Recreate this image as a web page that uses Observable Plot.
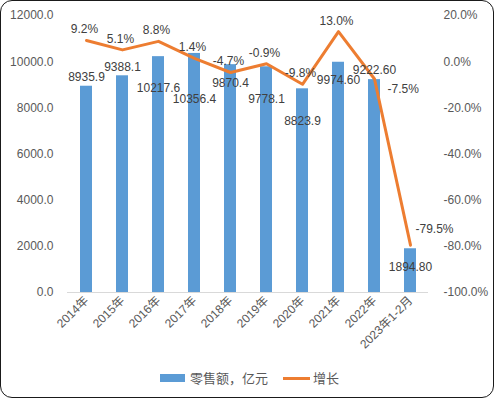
<!DOCTYPE html>
<html><head><meta charset="utf-8">
<script src="https://cdn.jsdelivr.net/npm/d3@7"></script>
<script src="https://cdn.jsdelivr.net/npm/@observablehq/plot@0.6"></script>
<style>
html,body{margin:0;padding:0;background:#fff;}
#wrap{position:relative;width:494px;height:398px;overflow:hidden;font-family:"Liberation Sans","Noto Sans CJK SC",sans-serif;}
#frame{position:absolute;left:0;top:0;width:494px;height:398px;box-sizing:border-box;border:1.5px solid #1a1a1a;border-radius:12px;pointer-events:none;}
#chart{position:absolute;left:0;top:0;}
#legend{position:absolute;left:0;top:367px;width:494px;height:20px;font-size:13px;color:#595959;font-family:"Noto Sans CJK SC","Liberation Sans",sans-serif;}
.sw{position:absolute;}
</style></head>
<body>
<div id="wrap"><div id="chart"></div>
<div id="legend">
<span class="sw" style="left:160px;top:7px;width:25px;height:8px;background:#5B9BD5"></span>
<span class="sw" style="left:190px;top:1px">零售额，亿元</span>
<span class="sw" style="left:283px;top:10px;width:27px;height:3px;background:#ED7D31"></span>
<span class="sw" style="left:313px;top:1px">增长</span>
</div>
<div id="frame"></div></div>
<script>
const years = ["2014年","2015年","2016年","2017年","2018年","2019年","2020年","2021年","2022年","2023年1-2月"];
const sales = [8935.9, 9388.1, 10217.6, 10356.4, 9870.4, 9778.1, 8823.9, 9974.60, 9222.60, 1894.80];
const salesLabels = ["8935.9","9388.1","10217.6","10356.4","9870.4","9778.1","8823.9","9974.60","9222.60","1894.80"];
const growth = [9.2, 5.1, 8.8, 1.4, -4.7, -0.9, -9.8, 13.0, -7.5, -79.5];
const leftTicks = [0, 2000, 4000, 6000, 8000, 10000, 12000];
const rightTicks = [-100, -80, -60, -40, -20, 0, 20];

const W = 494, H = 352, ML = 67, MR = 66, MT = 15, MB = 60;
const FONT = '"Liberation Sans","Noto Sans CJK SC",sans-serif';
const toY = p => (p + 100) * 100;
const pct = v => v.toFixed(1) + "%";

// pixel scales (same as the plot's) used only for label collision avoidance
const xs = Plot.scale({x: {type: "band", domain: years, range: [ML, W - MR], paddingInner: 0.68, paddingOuter: 0.34}});
const ys = Plot.scale({y: {type: "linear", domain: [0, 12000], range: [H - MB, MT]}});
const cx = k => xs.apply(k) + xs.bandwidth / 2;
const ctx = document.createElement("canvas").getContext("2d");
ctx.font = "12px " + FONT;
const tw = s => ctx.measureText(s).width;

const rows = years.map((y, i) => ({i, year: y, sales: sales[i], label: salesLabels[i], growth: growth[i],
  drop: i > 0 ? growth[i - 1] - growth[i] : 0, last: i === years.length - 1}));

// line polyline in pixels
const pts = rows.map(d => [cx(d.year), ys.apply(toY(d.growth))]);
const hitsLine = r => {
  for (let s = 0; s < pts.length - 1; s++) {
    const [x0, y0] = pts[s], [x1, y1] = pts[s + 1];
    for (let t = 0; t <= 1; t += 0.005) {
      const x = x0 + (x1 - x0) * t, y = y0 + (y1 - y0) * t;
      if (x > r.x0 && x < r.x1 && y > r.y0 && y < r.y1) return true;
    }
  }
  return false;
};
const overlaps = (a, b) => a.x0 < b.x1 && b.x0 < a.x1 && a.y0 < b.y1 && b.y0 < a.y1;

// growth label placement (above the point, or to the right after a steep drop)
const placed = [];
rows.forEach(d => {
  const [px, py] = pts[d.i];
  const w = tw(pct(d.growth));
  let cxp, cyp, anchor;
  if (d.drop > 15 && !d.last) { cxp = px + 13 + w / 2; cyp = py + 10; anchor = "start"; }
  else if (d.last) { cxp = px + 5 + w / 2; cyp = py - 16; anchor = "start"; }
  else { cxp = px - 2; cyp = py - 11; anchor = "middle"; }
  d.gx = anchor === "start" ? cxp - w / 2 - px : cxp - px;
  d.gy = ys.invert(cyp) ;
  d.ganchor = anchor;
  placed.push({x0: cxp - w / 2, x1: cxp + w / 2, y0: cyp - 5, y1: cyp + 5});
});

// bar label placement: try outside end, then inside the bar, avoiding the line and other labels
const candidates = [-9, 18, 32, 46];
rows.forEach(d => {
  const px = cx(d.year), top = ys.apply(d.sales), w = tw(d.label);
  let chosen = null;
  for (const off of candidates) {
    const r = {x0: px - w / 2, x1: px + w / 2, y0: top + off - 5, y1: top + off + 5};
    if (!hitsLine(r) && !placed.some(p => overlaps(p, r))) { chosen = off; placed.push(r); break; }
  }
  if (chosen === null) { chosen = candidates[0]; placed.push({x0: px - w / 2, x1: px + w / 2, y0: top - 14, y1: top - 4}); }
  d.by = ys.invert(top + chosen);
});

const txt = {fill: "#404040", fontSize: 12};
const chart = Plot.plot({
  width: W, height: H,
  marginLeft: ML, marginRight: MR, marginTop: MT, marginBottom: MB,
  style: {fontFamily: FONT, fontSize: "12px", color: "#595959", background: "transparent"},
  x: {domain: years, paddingInner: 0.68, paddingOuter: 0.34, label: null},
  y: {domain: [0, 12000], label: null},
  marks: [
    Plot.axisY({ticks: leftTicks, tickFormat: d3.format(".1f"), tickSize: 0, tickPadding: 14, anchor: "left", label: null}),
    Plot.axisY({ticks: rightTicks.map(toY), tickFormat: v => (Math.round(v) / 100 - 100).toFixed(1) + "%", tickSize: 0, tickPadding: 15, anchor: "right", label: null}),
    Plot.axisX({tickRotate: -45, tickSize: 0, tickPadding: 6, label: null}),
    Plot.ruleY([0], {stroke: "#d9d9d9", strokeWidth: 1.2}),
    Plot.barY(rows, {x: "year", y: "sales", fill: "#5B9BD5"}),
    Plot.line(rows, {x: "year", y: d => toY(d.growth), stroke: "#ED7D31", strokeWidth: 3, strokeLinejoin: "round", strokeLinecap: "round"}),
    Plot.text(rows, {x: "year", y: "by", text: "label", ...txt}),
    ...rows.map(d => Plot.text([d], {x: "year", y: "gy", text: e => pct(e.growth), dx: d.gx, textAnchor: d.ganchor, ...txt}))
  ]
});
document.getElementById("chart").append(chart);
</script>
</body></html>
